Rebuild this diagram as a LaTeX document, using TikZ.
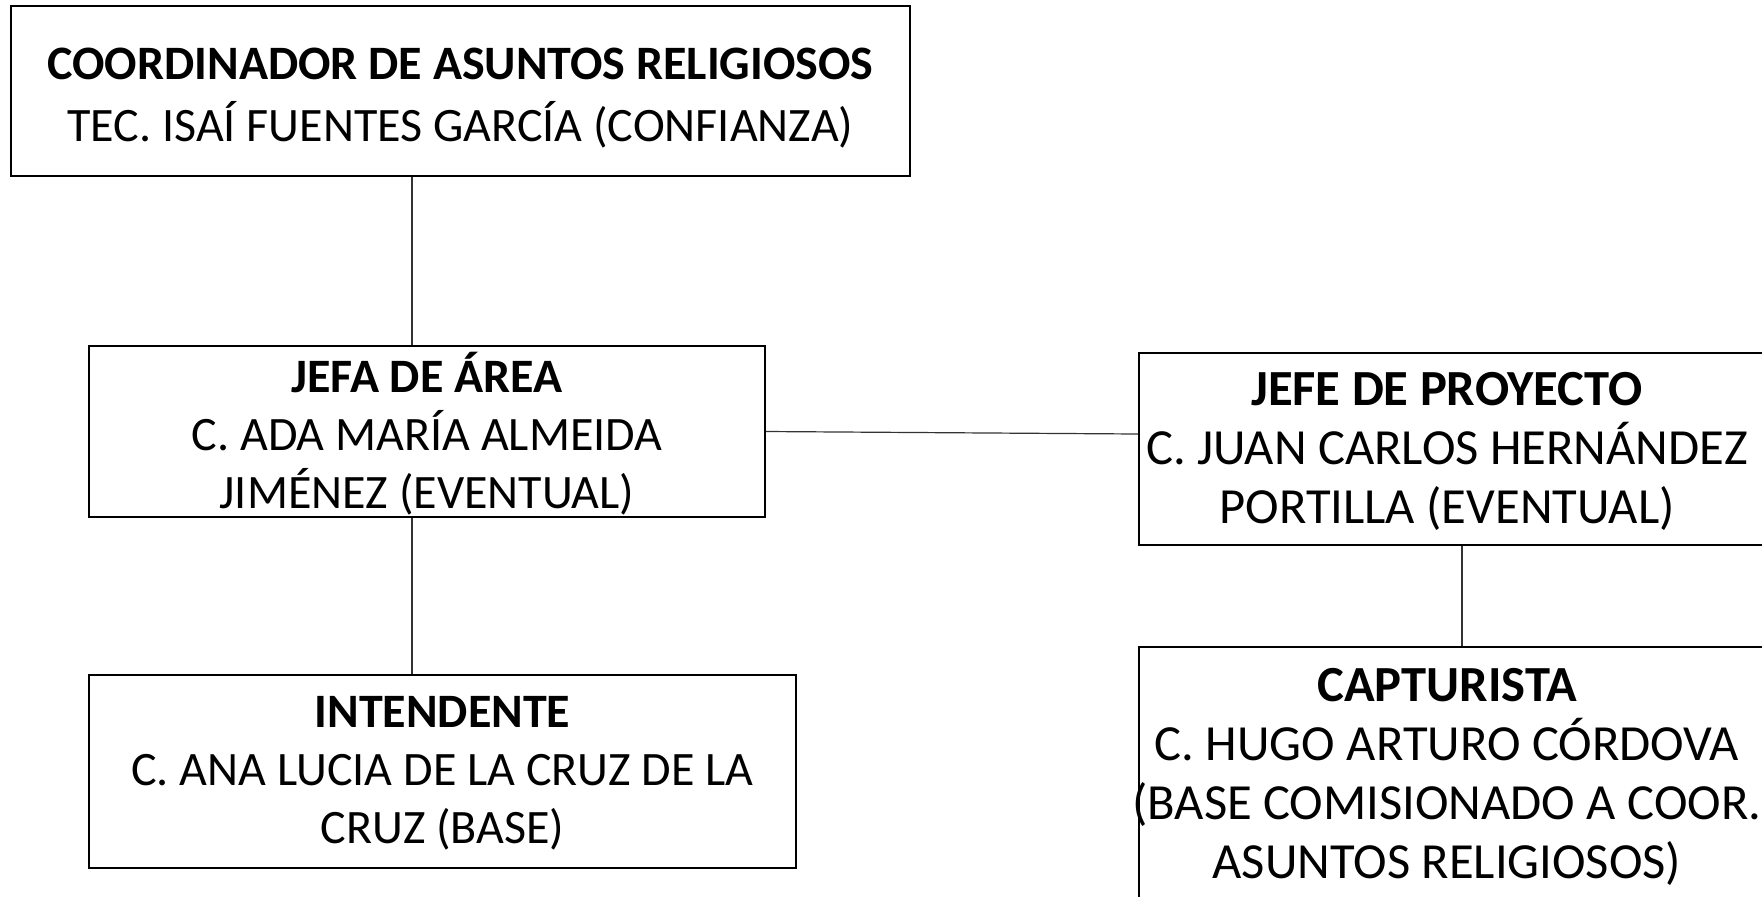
\documentclass[tikz,border=0pt]{standalone}
\usepackage{fontspec}
\setmainfont{Carlito}
\usepackage{tikz}
\usetikzlibrary{positioning,calc}

\begin{document}
\begin{tikzpicture}[
    x=0.5pt, y=-0.5pt,
    puesto/.style={rectangle, draw=black, line width=1pt, fill=white, inner sep=0pt},
    texto/.style={align=center, inner sep=0pt, font=\fontsize{24}{29}\selectfont},
    grande/.style={font=\fontsize{25.3}{29.5}\selectfont},
    linea/.style={draw=black!80, line width=0.6pt}
]
\useasboundingbox (0,0) rectangle (1762,896);

% Cajas
\node[puesto, minimum width=449.5pt, minimum height=85pt] (coord) at (460.5,91) {};
\node[puesto, minimum width=338pt, minimum height=85.5pt] (jefa) at (427,431.5) {};
\node[puesto, minimum width=323pt, minimum height=96pt] (jefe) at (1462,449) {};
\node[puesto, minimum width=353.5pt, minimum height=96.5pt] (intend) at (442.5,771.5) {};
\node[puesto, minimum width=323pt, minimum height=131.5pt] (captur) at (1462,778.5) {};

% Textos
\node[texto, font=\fontsize{24}{31}\selectfont] (coordTxt) at ([yshift=-3.5pt]coord.center)
  {\textbf{COORDINADOR DE ASUNTOS RELIGIOSOS}\\TEC. ISAÍ FUENTES GARCÍA (CONFIANZA)};
\node[texto] (jefaTxt) at ([yshift=-1pt]jefa.center)
  {\textbf{JEFA DE ÁREA}\\C. ADA MARÍA ALMEIDA\\JIMÉNEZ (EVENTUAL)};
\node[texto, grande] (jefeTxt) at ([xshift=-7.5pt, yshift=-1pt]jefe.center)
  {\textbf{JEFE DE PROYECTO}\\C. JUAN CARLOS HERNÁNDEZ\\PORTILLA (EVENTUAL)};
\node[texto] (intendTxt) at ([yshift=-1pt]intend.center)
  {\textbf{INTENDENTE}\\C. ANA LUCIA DE LA CRUZ DE LA\\CRUZ (BASE)};
\node[texto, grande] (capturTxt) at ([xshift=-7.5pt, yshift=1pt]captur.center)
  {\textbf{CAPTURISTA}\\C. HUGO ARTURO CÓRDOVA\\(BASE COMISIONADO A COOR.\\ASUNTOS RELIGIOSOS)};

% Conexiones
\draw[linea] ([xshift=-7.5pt]jefa.north) -- ([xshift=-7.5pt]jefa.north |- coord.south);
\draw[linea] ([xshift=-7.5pt]jefa.south) -- ([xshift=-7.5pt]jefa.south |- intend.north);
\draw[linea] (jefa.east) -- ([yshift=7.5pt]jefe.west);
\draw[linea] (jefe.south) -- (captur.north);

\end{tikzpicture}
\end{document}
